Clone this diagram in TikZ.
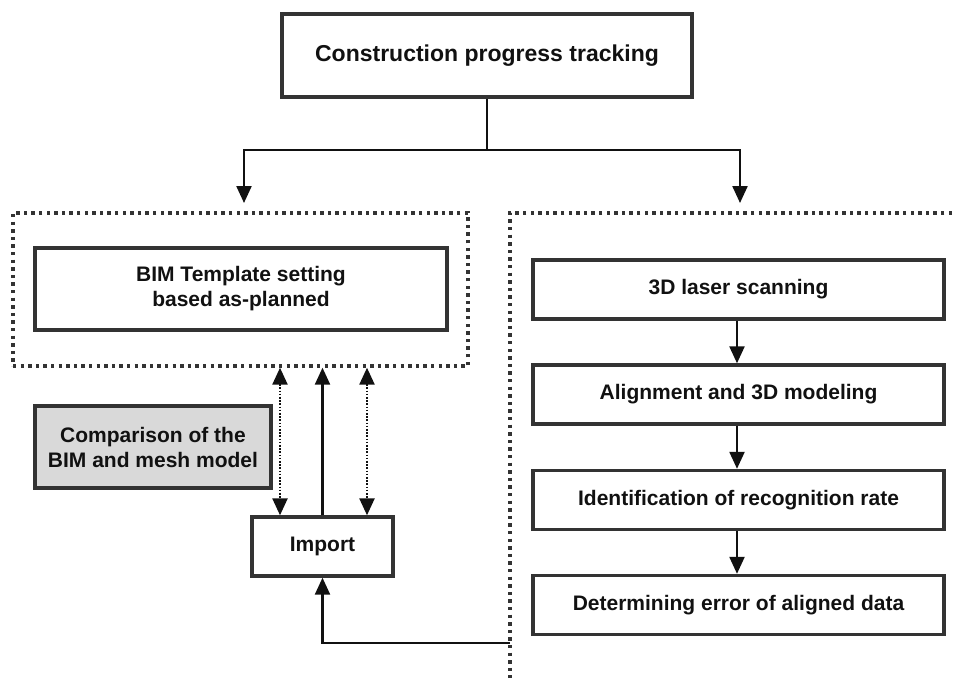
\documentclass[tikz,border=0pt]{standalone}
\usepackage{fontspec}
\setmainfont{Liberation Sans}
\usetikzlibrary{arrows.meta}
\definecolor{edge}{HTML}{333333}
\definecolor{ink}{HTML}{111111}
\definecolor{shade}{HTML}{D9D9D9}
\begin{document}
\begin{tikzpicture}[x=1pt,y=-1pt,
  box/.style={draw=edge, line width=3.4pt, fill=white, align=center, inner sep=0pt,
    text=ink, font=\bfseries\fontsize{21}{25}\selectfont},
  titlebox/.style={box, font=\bfseries\fontsize{23}{27}\selectfont},
  graybox/.style={box, fill=shade},
  group/.style={draw=edge, line width=3.4pt, dash pattern=on 3.4pt off 4.2pt},
  arr/.style={draw=ink, line width=2.3pt, -{Triangle[width=15pt,length=17pt]}},
  link/.style={draw=ink, line width=2.3pt},
  dotarr/.style={draw=ink, line width=2.4pt, dash pattern=on 1.6pt off 1.6pt,
    {Triangle[width=15pt,length=17pt]}-{Triangle[width=15pt,length=17pt]}}]
\useasboundingbox (0,0) rectangle (958,678);

% top node
\node[titlebox, minimum width=410pt, minimum height=83pt] (top) at (487,55.5) {Construction progress tracking};

% left group: as-planned BIM
\node[group, minimum width=455pt, minimum height=153pt, inner sep=0pt] (lgrp) at (240.5,289.5) {};
\node[box, minimum width=412pt, minimum height=82pt] (bim) at (241,289) {BIM Template setting\\based as-planned};
\node[graybox, minimum width=236pt, minimum height=82pt] (cmp) at (153,447) {Comparison of the\\BIM and mesh model};
\node[box, minimum width=141pt, minimum height=59pt] (imp) at (322.5,546.5) {Import};

% right group: as-built scan data (open frame)
\coordinate (rtop) at (510,213);
\coordinate (rend) at (952,213);
\coordinate (rbot) at (510,678);
\coordinate (rout) at (510,643);
\draw[group] (rend) -- (rtop) -- (rbot);
\node[box, minimum width=411pt, minimum height=59pt] (b1) at (738.5,289.5) {3D laser scanning};
\node[box, minimum width=411pt, minimum height=59pt] (b2) at (738.5,394.5) {Alignment and 3D modeling};
\node[box, minimum width=411pt, minimum height=59pt] (b3) at (738.5,500) {Identification of recognition rate};
\node[box, minimum width=411pt, minimum height=59pt] (b4) at (738.5,605) {Determining error of aligned data};

% branch from the top node
\coordinate (split) at (487,150);
\coordinate (lin) at (244,203);
\coordinate (rin) at (740,203);
\draw[link] (top.south) -- (split);
\draw[arr] (split) -| (lin);
\draw[arr] (split) -| (rin);

% right-hand chain
\draw[arr] (b1.south -| 737,0) -- (b2.north -| 737,0);
\draw[arr] (b2.south -| 737,0) -- (b3.north -| 737,0);
\draw[arr] (b3.south -| 737,0) -- (b4.north -| 737,0);

% exchange between BIM group and import
\draw[dotarr] ([xshift=-42.5pt]imp.north |- lgrp.south) -- ([xshift=-42.5pt]imp.north);
\draw[arr] (imp.north) -- (imp.north |- lgrp.south);
\draw[dotarr] ([xshift=44.5pt]imp.north |- lgrp.south) -- ([xshift=44.5pt]imp.north);

% scan data fed into import
\draw[arr] (rout) -| (imp.south);
\end{tikzpicture}
\end{document}
